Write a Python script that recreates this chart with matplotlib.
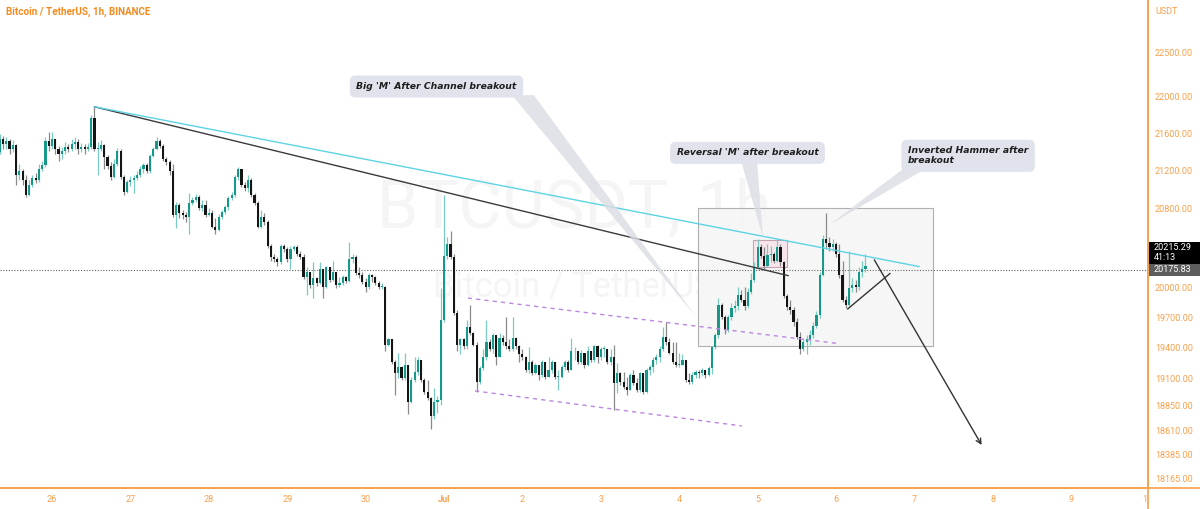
import numpy as np
import matplotlib.pyplot as plt
from matplotlib.patches import Rectangle, Polygon
from matplotlib.lines import Line2D
from matplotlib.ticker import FixedLocator, NullLocator

plt.rcParams['font.family'] = ['Roboto', 'DejaVu Sans']

# hourly BTCUSDT candles, first one at 25 Jun 08:00 (hours counted from 26 Jun 00:00)
first_hour = -16
first_open = 21397

close = [
    21537, 21483, 21515, 21430, 21472, 21161, 21193, 21107, 20946, 21053,
    21129, 21107, 21215, 21258, 21515, 21462, 21537, 21430, 21376, 21408,
    21451, 21430, 21483, 21505, 21430, 21451, 21430, 21451, 21774, 21430,
    21430, 21472, 21344, 21247, 21139, 21268, 21408, 21139, 20978, 21086,
    21107, 21129, 21161, 21215, 21258, 21193, 21354, 21430, 21515, 21462,
    21322, 21290, 21193, 20739, 20841, 20759, 20739, 20718, 20861, 20892,
    20924, 20810, 20841, 20739, 20759, 20616, 20585, 20718, 20769, 20820,
    20914, 20946, 21139, 21215, 21053, 21021, 21107, 20946, 20861, 20616,
    20718, 20667, 20412, 20299, 20279, 20248, 20412, 20381, 20279, 20381,
    20401, 20330, 20299, 20105, 20156, 20023, 20095, 20044, 20177, 20003,
    20197, 20074, 20156, 20023, 20044, 20105, 20064, 20279, 20299, 20146,
    20126, 20054, 20003, 20126, 20105, 20044, 20003, 20003, 19432, 19481,
    19267, 19160, 19218, 19111, 19238, 18877, 19092, 19170, 19286, 19092,
    18975, 18916, 18751, 18877, 18897, 19675, 20309, 20432, 20299, 19744,
    19432, 19481, 19413, 19607, 19549, 19432, 19072, 19209, 19306, 19461,
    19384, 19529, 19315, 19500, 19452, 19413, 19384, 19500, 19413, 19335,
    19306, 19189, 19267, 19160, 19238, 19140, 19267, 19121, 19189, 19267,
    19121, 19121, 19218, 19267, 19189, 19364, 19364, 19267, 19354, 19238,
    19364, 19286, 19413, 19306, 19384, 19384, 19267, 19315, 19063, 19160,
    19072, 19024, 18994, 19140, 19063, 18994, 19160, 18975, 19189, 19218,
    19286, 19315, 19384, 19510, 19452, 19354, 19267, 19238, 19238, 19286,
    19092, 19072, 19140, 19170, 19160, 19189, 19140, 19209, 19403, 19529,
    19821, 19705, 19578, 19705, 19792, 19812, 19921, 19870, 19812, 19952,
    20074, 20197, 20401, 20309, 20217, 20320, 20330, 20258, 20401, 20248,
    19911, 19802, 19773, 19656, 19510, 19384, 19452, 19481, 19529, 19617,
    19724, 20126, 20483, 20442, 20401, 20432, 20330, 20126, 19870, 19821,
    19993, 20023, 20003, 20156, 20177, 20215.29,
]
high = [
    21591, 21569, 21558, 21537, 21526, 21483, 21268, 21215, 21161, 21107,
    21161, 21172, 21268, 21301, 21558, 21612, 21612, 21537, 21462, 21451,
    21505, 21483, 21537, 21558, 21537, 21494, 21483, 21494, 21806, 21892,
    21505, 21526, 21483, 21365, 21290, 21322, 21440, 21430, 21161, 21107,
    21150, 21161, 21193, 21247, 21279, 21279, 21376, 21451, 21558, 21537,
    21483, 21344, 21311, 21268, 20872, 20861, 20790, 20769, 20967, 20924,
    20957, 20946, 20892, 20892, 20810, 20790, 20708, 20749, 20790, 20841,
    20935, 20978, 21161, 21236, 21215, 21086, 21161, 21129, 20967, 20882,
    20790, 20759, 20688, 20432, 20330, 20299, 20432, 20432, 20401, 20412,
    20422, 20422, 20361, 20330, 20197, 20156, 20248, 20105, 20248, 20156,
    20217, 20197, 20258, 20156, 20105, 20126, 20115, 20453, 20330, 20320,
    20197, 20156, 20095, 20146, 20136, 20115, 20064, 20044, 20013, 19500,
    19481, 19277, 19354, 19228, 19354, 19228, 19121, 19306, 19306, 19286,
    19111, 19092, 18926, 19014, 18934, 19993, 20946, 20504, 20565, 20330,
    19773, 19500, 19500, 19675, 19821, 19559, 19461, 19228, 19384, 19675,
    19481, 19549, 19481, 19549, 19520, 19705, 19481, 19705, 19510, 19432,
    19384, 19325, 19403, 19286, 19257, 19238, 19286, 19267, 19315, 19286,
    19267, 19189, 19238, 19286, 19286, 19500, 19403, 19364, 19374, 19335,
    19413, 19364, 19432, 19432, 19403, 19413, 19384, 19384, 19432, 19257,
    19170, 19170, 19121, 19160, 19189, 19111, 19170, 19131, 19209, 19238,
    19306, 19335, 19413, 19607, 19656, 19500, 19461, 19452, 19354, 19335,
    19286, 19160, 19170, 19189, 19189, 19209, 19189, 19228, 19422, 19549,
    19890, 19841, 19724, 19724, 19841, 19870, 20003, 19972, 20003, 19993,
    20146, 20248, 20483, 20432, 20401, 20432, 20412, 20350, 20483, 20432,
    20258, 19931, 19870, 19802, 19695, 19559, 19500, 19520, 19578, 19656,
    19763, 20156, 20524, 20759, 20504, 20483, 20453, 20432, 20258, 19911,
    20361, 20095, 20074, 20197, 20258, 20330,
]
low = [
    21376, 21430, 21430, 21376, 21397, 21053, 21107, 21053, 20924, 20935,
    21032, 21075, 21086, 21193, 21236, 21408, 21430, 21376, 21301, 21322,
    21376, 21397, 21408, 21430, 21376, 21397, 21376, 21408, 21430, 21408,
    21161, 21408, 21215, 21215, 21107, 21129, 21247, 21118, 20946, 20967,
    21043, 20967, 21107, 21139, 21182, 21172, 21172, 21344, 21419, 21440,
    21301, 21258, 21161, 20718, 20606, 20708, 20698, 20667, 20534, 20841,
    20872, 20790, 20780, 20718, 20728, 20596, 20534, 20575, 20698, 20749,
    20790, 20892, 20924, 21107, 21032, 20989, 20978, 20924, 20841, 20596,
    20606, 20637, 20391, 20258, 20248, 20217, 20228, 20350, 20248, 20177,
    20361, 20309, 20279, 20085, 19921, 19993, 19890, 20013, 20034, 19890,
    19993, 20054, 20064, 19993, 20003, 20023, 20044, 20054, 20238, 20126,
    20095, 20034, 19952, 19983, 20054, 20023, 19983, 19983, 19364, 19413,
    19247, 18946, 19111, 19092, 19092, 18771, 18868, 19072, 19140, 19072,
    18955, 18897, 18625, 18722, 18780, 18848, 19656, 20279, 20279, 19724,
    19364, 19335, 19393, 19384, 19529, 19413, 18975, 19053, 19189, 19286,
    19364, 19354, 19238, 19335, 19432, 19393, 19364, 19364, 19393, 19267,
    19286, 19170, 19160, 19140, 19150, 19092, 19121, 19101, 19121, 19160,
    19101, 18994, 19111, 19189, 19170, 19189, 19286, 19247, 19247, 19209,
    19228, 19267, 19267, 19257, 19277, 19315, 19247, 19238, 18800, 18965,
    19043, 19004, 18946, 18994, 19043, 18975, 18975, 18955, 18965, 19140,
    19170, 19247, 19267, 19364, 19432, 19335, 19247, 19218, 19218, 19238,
    19072, 19053, 19053, 19111, 19111, 19131, 19111, 19131, 19150, 19384,
    19500, 19685, 19539, 19559, 19675, 19753, 19773, 19851, 19773, 19792,
    19931, 20054, 20177, 20289, 20177, 20197, 20248, 20238, 20248, 20217,
    19890, 19773, 19734, 19617, 19490, 19335, 19364, 19335, 19432, 19500,
    19597, 19695, 20115, 20381, 20361, 20361, 20299, 20095, 19851, 19792,
    19812, 19952, 19952, 19972, 20105, 20156,
]

ref_price = 20175.83
countdown = '41:13'

day_hours = list(range(0, 313, 24)) + [334.6]
day_labels = ['26', '27', '28', '29', '30', 'Jul', '2', '3', '4', '5', '6', '7', '8', '9', '1']
price_ticks = [22500, 22000, 21600, 21200, 20800, 20000, 19700, 19400,
               19100, 18850, 18610, 18385, 18165]

# chart drawings, points as (hour, price)
peak = (13, 21892)
black_end = (225.3, 20115)
cyan_end = (265.4, 20207)
chan_top = [(127.3, 19890), (240.6, 19442)]
chan_bot = [(129.5, 18985), (211.2, 18654)]
zone = (197.7, 269.7, 19422, 20810)
m_zone = (214.6, 225.0, 20207, 20473)
wedge = [(243.6, 19782), (256.5, 20136)]
drop = [(251.3, 20299), (285.0, 18455)]

notes = [
    ("Big 'M' After Channel breakout", (117.7, 22116), 'center',
     [(140.8, 22020), (147.5, 22020), (197.4, 19695)]),
    ("Reversal 'M' after breakout", (212.9, 21392), 'center',
     [(210.8, 21322), (215.8, 21322), (217.6, 20504)]),
    ("Inverted Hammer after\nbreakout", (262.0, 21360), 'left',
     [(261.1, 21236), (268.1, 21236), (238.1, 20637)]),
]

ORANGE = '#f9a04b'
W, H = 1200, 509

fig = plt.figure(figsize=(W / 100, H / 100), dpi=100)
ax = fig.add_axes([0, 21 / H, 1148 / W, 488 / H])
ax.set_yscale('log')
ax.set_xlim(-15.92, 335.5)
ax.set_ylim(18083, 23096)

# candles
c = np.array(close, float)
o = np.r_[first_open, c[:-1]]
hi = np.maximum(np.array(high, float), np.maximum(o, c))
lo = np.minimum(np.array(low, float), np.minimum(o, c))
t = first_hour + np.arange(len(c))
up = c >= o
ax.vlines(t, lo, hi, colors=np.where(up, '#7ccbc1', '#8a8a8a'), lw=0.9, zorder=3)
bot = np.minimum(o, c)
top = np.maximum(np.maximum(o, c), bot * 1.0005)
ax.bar(t, top - bot, bottom=bot, width=0.66, color=np.where(up, '#17998a', '#151515'),
       lw=0, zorder=4)

# watermark
ax.text(0.5, 0.572, 'BTCUSDT, 1h', transform=ax.transAxes, ha='center', va='center',
        fontsize=48, color='#f5f5f5', zorder=0)
ax.text(0.5, 0.412, 'Bitcoin / TetherUS', transform=ax.transAxes, ha='center', va='center',
        fontsize=25, color='#f5f5f5', zorder=0)

# boxes
ax.add_patch(Rectangle((zone[0], zone[2]), zone[1] - zone[0], zone[3] - zone[2],
                       fc='#f6f6f6', ec='#a8a8a8', lw=0.8, alpha=0.9, zorder=1))
ax.add_patch(Rectangle((m_zone[0], m_zone[2]), m_zone[1] - m_zone[0], m_zone[3] - m_zone[2],
                       fc='#f9e6ec', ec='#c8a2b0', lw=0.8, zorder=2))

# trend lines
ax.plot([peak[0], black_end[0]], [peak[1], black_end[1]], color='#3a3a3a', lw=1, zorder=5)
ax.plot([peak[0], cyan_end[0]], [peak[1], cyan_end[1]], color='#5ed3e3', lw=1, zorder=5)
for seg in (chan_top, chan_bot):
    ax.plot(*zip(*seg), color='#bb86e0', lw=1, ls=(0, (3, 3)), zorder=5)
ax.plot(*zip(*wedge), color='#333333', lw=1, zorder=5)
ax.annotate('', xy=drop[1], xytext=drop[0],
            arrowprops=dict(arrowstyle='->', color='#333333', lw=1, mutation_scale=9),
            zorder=5)

ax.axhline(ref_price, color='#666666', lw=0.8, ls=(0, (1, 1.5)), zorder=2)

# callouts
for text, pos, ha, tail in notes:
    ax.add_patch(Polygon(tail, closed=True, fc='#dadde3', ec='none', alpha=0.8, zorder=6))
    ax.text(pos[0], pos[1], text, ha=ha, va='center', fontsize=6.7, style='italic',
            fontweight='bold', family='DejaVu Sans', color='#1e1e1e', linespacing=1.15,
            zorder=7, bbox=dict(boxstyle='round,pad=0.7,rounding_size=0.6',
                                fc='#e0e3eb', ec='none'))

# axes styling
for s in ('top', 'left'):
    ax.spines[s].set_visible(False)
for s in ('bottom', 'right'):
    ax.spines[s].set_color(ORANGE)
    ax.spines[s].set_linewidth(1.2)
ax.yaxis.tick_right()
ax.yaxis.set_major_locator(FixedLocator(price_ticks))
ax.yaxis.set_minor_locator(NullLocator())
ax.set_yticklabels([f'{p:.2f}' for p in price_ticks])
ax.set_xticks(day_hours)
ax.set_xticklabels(day_labels)
ax.tick_params(axis='y', length=0, pad=5, labelsize=6.5, labelcolor=ORANGE)
ax.tick_params(axis='x', length=0, pad=5, labelsize=6.5, labelcolor=ORANGE)
for lab in ax.get_xticklabels():
    if lab.get_text() == 'Jul':
        lab.set_fontweight('bold')

fig.add_artist(Line2D([0, 1], [21 / H, 21 / H], transform=fig.transFigure, color=ORANGE, lw=1.2))
fig.add_artist(Line2D([1148 / W, 1148 / W], [0, 1], transform=fig.transFigure, color=ORANGE, lw=1.2))

fig.text(6 / W, 1 - 12 / H, 'Bitcoin / TetherUS, 1h, BINANCE', fontsize=7.1, fontweight='bold',
         color='#f58a1f', va='center', ha='left')
fig.text(1155 / W, 1 - 12 / H, 'USDT', fontsize=6.5, color=ORANGE, va='center', ha='left')

# price labels on the scale
fig.canvas.draw()
y_ref = ax.transData.transform((0, ref_price))[1] / H
bw, gh, kh = 51 / W, 12 / H, 22 / H
x0 = 1149 / W
fig.add_artist(Rectangle((x0, y_ref - gh / 2), bw, gh, transform=fig.transFigure,
                         fc='#5d5d5d', ec='none'))
fig.text(x0 + 5 / W, y_ref, f'{ref_price:.2f}', fontsize=6.5, color='white', va='center')
fig.add_artist(Rectangle((x0, y_ref + gh / 2), bw, kh, transform=fig.transFigure,
                         fc='#000000', ec='none'))
fig.text(x0 + 5 / W, y_ref + gh / 2 + kh * 0.72, f'{close[-1]:.2f}', fontsize=6.5,
         color='white', va='center')
fig.text(x0 + 5 / W, y_ref + gh / 2 + kh * 0.27, countdown, fontsize=6.5,
         color='white', va='center')

fig.savefig('out.png', dpi=100)
